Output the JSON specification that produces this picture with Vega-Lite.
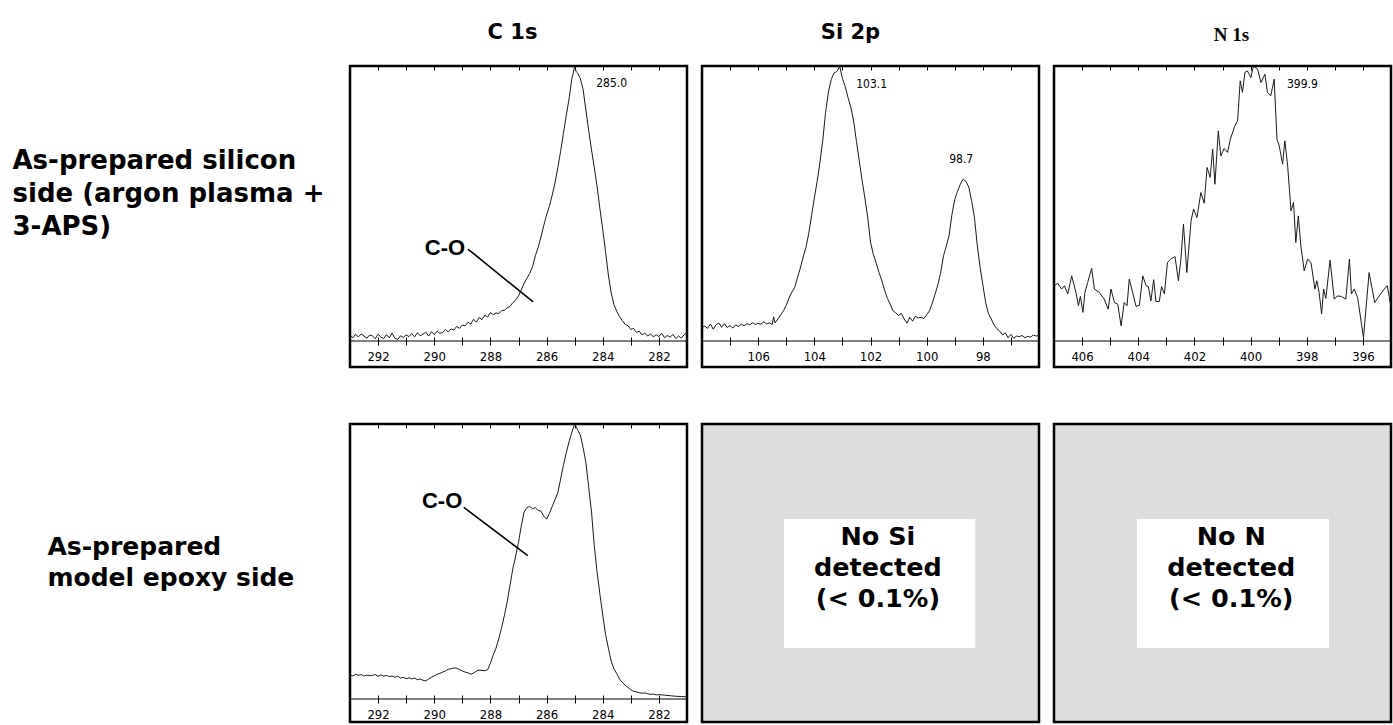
{
  "$schema": "https://vega.github.io/schema/vega-lite/v6.json",
  "background": "white",
  "padding": {"left": 10, "top": 20, "right": 0, "bottom": 0},
  "columns": 3,
  "spacing": {"row": 57, "column": 15},
  "bounds": "flush",
  "align": "all",
  "config": {
    "view": {"stroke": "black", "strokeWidth": 2.5},
    "axis": {
      "grid": false, "domain": false, "tickColor": "black", "tickWidth": 1,
      "labelColor": "black", "labelFont": "Liberation Sans Narrow, DejaVu Sans Condensed, Liberation Sans",
      "labelFontSize": 13, "labelFlush": false, "labelBound": false, "labelOverlap": false, "labelPadding": 5
    }
  },
  "datasets": {
    "c1s_si": [
      {"be":293.0,"counts":2.0},{"be":292.9,"counts":1.2},{"be":292.8,"counts":2.4},{"be":292.7,"counts":1.5},{"be":292.6,"counts":2.6},{"be":292.5,"counts":1.8},{"be":292.4,"counts":1.0},{"be":292.3,"counts":2.2},{"be":292.2,"counts":1.9},{"be":292.1,"counts":0.8},{"be":292.0,"counts":2.5},{"be":291.9,"counts":1.4},{"be":291.8,"counts":0.9},{"be":291.7,"counts":2.3},{"be":291.6,"counts":1.2},{"be":291.5,"counts":2.8},{"be":291.4,"counts":1.0},{"be":291.3,"counts":0.6},{"be":291.2,"counts":1.9},{"be":291.1,"counts":1.3},{"be":291.0,"counts":2.2},{"be":290.9,"counts":1.6},{"be":290.8,"counts":2.7},{"be":290.7,"counts":1.5},{"be":290.6,"counts":3.0},{"be":290.5,"counts":1.9},{"be":290.4,"counts":2.5},{"be":290.3,"counts":3.2},{"be":290.2,"counts":1.8},{"be":290.1,"counts":3.4},{"be":290.0,"counts":2.3},{"be":289.9,"counts":3.6},{"be":289.8,"counts":2.8},{"be":289.7,"counts":3.1},{"be":289.6,"counts":4.2},{"be":289.5,"counts":3.3},{"be":289.4,"counts":4.4},{"be":289.3,"counts":4.0},{"be":289.2,"counts":5.3},{"be":289.1,"counts":4.6},{"be":289.0,"counts":5.8},{"be":288.9,"counts":5.5},{"be":288.8,"counts":6.8},{"be":288.7,"counts":6.2},{"be":288.6,"counts":7.9},{"be":288.5,"counts":6.9},{"be":288.4,"counts":8.6},{"be":288.3,"counts":7.8},{"be":288.2,"counts":9.4},{"be":288.1,"counts":8.7},{"be":288.0,"counts":10.3},{"be":287.9,"counts":9.6},{"be":287.8,"counts":10.2},{"be":287.7,"counts":10.0},{"be":287.6,"counts":11.0},{"be":287.5,"counts":11.2},{"be":287.4,"counts":12.1},{"be":287.3,"counts":12.6},{"be":287.2,"counts":14.0},{"be":287.1,"counts":14.9},{"be":287.0,"counts":16.4},{"be":286.9,"counts":18.6},{"be":286.8,"counts":21.0},{"be":286.7,"counts":22.8},{"be":286.6,"counts":24.6},{"be":286.5,"counts":27.0},{"be":286.4,"counts":31.0},{"be":286.3,"counts":34.0},{"be":286.2,"counts":37.8},{"be":286.1,"counts":42.0},{"be":286.0,"counts":45.8},{"be":285.9,"counts":49.0},{"be":285.8,"counts":53.0},{"be":285.7,"counts":57.5},{"be":285.6,"counts":63.0},{"be":285.5,"counts":69.0},{"be":285.4,"counts":75.5},{"be":285.3,"counts":82.0},{"be":285.2,"counts":88.0},{"be":285.1,"counts":95.5},{"be":285.05,"counts":97.5},{"be":285.0,"counts":100},{"be":284.95,"counts":98.0},{"be":284.9,"counts":97.5},{"be":284.8,"counts":95.5},{"be":284.7,"counts":91.5},{"be":284.6,"counts":84.0},{"be":284.5,"counts":76.5},{"be":284.4,"counts":69.5},{"be":284.3,"counts":63.0},{"be":284.2,"counts":56.0},{"be":284.1,"counts":48.0},{"be":284.0,"counts":40.5},{"be":283.9,"counts":32.5},{"be":283.8,"counts":24.0},{"be":283.7,"counts":17.5},{"be":283.6,"counts":13.2},{"be":283.5,"counts":10.8},{"be":283.4,"counts":8.8},{"be":283.3,"counts":7.4},{"be":283.2,"counts":6.0},{"be":283.1,"counts":5.6},{"be":283.0,"counts":4.2},{"be":282.9,"counts":4.6},{"be":282.8,"counts":3.1},{"be":282.7,"counts":3.6},{"be":282.6,"counts":2.2},{"be":282.5,"counts":2.9},{"be":282.4,"counts":1.8},{"be":282.3,"counts":2.6},{"be":282.2,"counts":1.5},{"be":282.1,"counts":2.3},{"be":282.0,"counts":1.6},{"be":281.9,"counts":2.8},{"be":281.8,"counts":1.2},{"be":281.7,"counts":2.0},{"be":281.6,"counts":1.4},{"be":281.5,"counts":2.4},{"be":281.4,"counts":0.9},{"be":281.3,"counts":1.8},{"be":281.2,"counts":1.1},{"be":281.1,"counts":2.3},{"be":281.0,"counts":3.0}
    ],
    "si2p_si": [
      {"be":108.0,"counts":5.0},{"be":107.9,"counts":5.4},{"be":107.8,"counts":4.6},{"be":107.7,"counts":6.2},{"be":107.6,"counts":4.3},{"be":107.5,"counts":5.9},{"be":107.4,"counts":6.6},{"be":107.3,"counts":5.0},{"be":107.2,"counts":6.3},{"be":107.1,"counts":4.9},{"be":107.0,"counts":5.6},{"be":106.9,"counts":4.7},{"be":106.8,"counts":5.9},{"be":106.7,"counts":5.3},{"be":106.6,"counts":6.1},{"be":106.5,"counts":5.6},{"be":106.4,"counts":6.3},{"be":106.3,"counts":5.9},{"be":106.2,"counts":6.6},{"be":106.1,"counts":6.0},{"be":106.0,"counts":6.4},{"be":105.9,"counts":6.1},{"be":105.8,"counts":7.0},{"be":105.7,"counts":6.2},{"be":105.6,"counts":6.6},{"be":105.5,"counts":6.0},{"be":105.45,"counts":8.8},{"be":105.4,"counts":6.6},{"be":105.3,"counts":8.0},{"be":105.2,"counts":9.5},{"be":105.1,"counts":11.0},{"be":105.0,"counts":13.0},{"be":104.9,"counts":15.6},{"be":104.8,"counts":17.8},{"be":104.7,"counts":19.5},{"be":104.6,"counts":23.0},{"be":104.5,"counts":26.5},{"be":104.4,"counts":30.5},{"be":104.3,"counts":34.0},{"be":104.2,"counts":39.0},{"be":104.1,"counts":45.5},{"be":104.0,"counts":52.0},{"be":103.9,"counts":58.0},{"be":103.8,"counts":65.0},{"be":103.7,"counts":73.0},{"be":103.6,"counts":83.0},{"be":103.5,"counts":90.5},{"be":103.4,"counts":95.0},{"be":103.3,"counts":97.5},{"be":103.2,"counts":98.0},{"be":103.15,"counts":98.8},{"be":103.1,"counts":100},{"be":103.0,"counts":95.5},{"be":102.9,"counts":92.5},{"be":102.8,"counts":88.5},{"be":102.7,"counts":85.0},{"be":102.6,"counts":80.0},{"be":102.5,"counts":72.5},{"be":102.4,"counts":65.5},{"be":102.3,"counts":58.5},{"be":102.2,"counts":52.0},{"be":102.1,"counts":45.0},{"be":102.0,"counts":36.0},{"be":101.9,"counts":31.5},{"be":101.8,"counts":28.5},{"be":101.7,"counts":25.0},{"be":101.6,"counts":22.0},{"be":101.5,"counts":18.5},{"be":101.4,"counts":15.5},{"be":101.3,"counts":13.5},{"be":101.2,"counts":11.0},{"be":101.1,"counts":10.2},{"be":101.0,"counts":9.3},{"be":100.9,"counts":10.0},{"be":100.8,"counts":8.0},{"be":100.7,"counts":6.5},{"be":100.6,"counts":8.6},{"be":100.5,"counts":7.2},{"be":100.4,"counts":9.0},{"be":100.3,"counts":8.4},{"be":100.2,"counts":8.6},{"be":100.1,"counts":8.2},{"be":100.0,"counts":9.5},{"be":99.9,"counts":11.0},{"be":99.8,"counts":13.8},{"be":99.7,"counts":17.0},{"be":99.6,"counts":20.5},{"be":99.5,"counts":25.0},{"be":99.4,"counts":31.0},{"be":99.3,"counts":34.5},{"be":99.2,"counts":38.5},{"be":99.1,"counts":46.0},{"be":99.0,"counts":51.5},{"be":98.9,"counts":54.5},{"be":98.8,"counts":57.0},{"be":98.7,"counts":58.9},{"be":98.6,"counts":58.0},{"be":98.5,"counts":56.0},{"be":98.4,"counts":51.0},{"be":98.3,"counts":45.0},{"be":98.2,"counts":35.0},{"be":98.1,"counts":27.0},{"be":98.0,"counts":20.5},{"be":97.9,"counts":14.0},{"be":97.8,"counts":10.0},{"be":97.7,"counts":8.0},{"be":97.6,"counts":5.8},{"be":97.5,"counts":4.5},{"be":97.4,"counts":3.6},{"be":97.3,"counts":2.2},{"be":97.2,"counts":3.0},{"be":97.1,"counts":1.2},{"be":97.0,"counts":2.4},{"be":96.9,"counts":1.0},{"be":96.8,"counts":1.8},{"be":96.7,"counts":1.6},{"be":96.6,"counts":2.0},{"be":96.5,"counts":1.2},{"be":96.4,"counts":1.7},{"be":96.3,"counts":1.4},{"be":96.2,"counts":2.2},{"be":96.1,"counts":1.8},{"be":96.0,"counts":2.1}
    ],
    "n1s_si": [
      {"be":406.99,"counts":20.1},{"be":406.87,"counts":21.0},{"be":406.73,"counts":18.9},{"be":406.63,"counts":20.1},{"be":406.51,"counts":17.1},{"be":406.37,"counts":23.7},{"be":406.22,"counts":17.7},{"be":406.13,"counts":12.8},{"be":406.06,"counts":16.2},{"be":405.97,"counts":10.4},{"be":405.9,"counts":17.7},{"be":405.8,"counts":21.3},{"be":405.66,"counts":26.4},{"be":405.56,"counts":18.9},{"be":405.39,"counts":17.7},{"be":405.21,"counts":15.2},{"be":405.07,"counts":11.6},{"be":404.97,"counts":18.9},{"be":404.85,"counts":14.0},{"be":404.73,"counts":13.4},{"be":404.61,"counts":5.5},{"be":404.5,"counts":14.0},{"be":404.4,"counts":12.8},{"be":404.32,"counts":22.5},{"be":404.2,"counts":17.7},{"be":404.08,"counts":12.6},{"be":403.96,"counts":13.0},{"be":403.84,"counts":23.7},{"be":403.72,"counts":20.1},{"be":403.64,"counts":19.8},{"be":403.55,"counts":14.6},{"be":403.45,"counts":22.3},{"be":403.37,"counts":14.3},{"be":403.25,"counts":14.4},{"be":403.17,"counts":19.8},{"be":403.07,"counts":17.1},{"be":402.96,"counts":28.6},{"be":402.84,"counts":29.8},{"be":402.69,"counts":30.7},{"be":402.57,"counts":21.9},{"be":402.48,"counts":29.8},{"be":402.39,"counts":42.5},{"be":402.27,"counts":24.9},{"be":402.12,"counts":43.7},{"be":402.03,"counts":48.0},{"be":401.91,"counts":44.9},{"be":401.77,"counts":54.0},{"be":401.65,"counts":50.1},{"be":401.55,"counts":63.1},{"be":401.44,"counts":59.5},{"be":401.35,"counts":69.8},{"be":401.27,"counts":57.0},{"be":401.15,"counts":76.4},{"be":401.06,"counts":67.3},{"be":400.94,"counts":70.0},{"be":400.82,"counts":68.6},{"be":400.72,"counts":73.4},{"be":400.58,"counts":77.7},{"be":400.46,"counts":80.3},{"be":400.37,"counts":94.6},{"be":400.29,"counts":90.4},{"be":400.2,"counts":97.7},{"be":400.11,"counts":98.2},{"be":399.99,"counts":95.8},{"be":399.9,"counts":100},{"be":399.75,"counts":98.9},{"be":399.63,"counts":94.0},{"be":399.49,"counts":97.0},{"be":399.4,"counts":90.4},{"be":399.28,"counts":89.2},{"be":399.16,"counts":95.2},{"be":399.06,"counts":73.4},{"be":398.98,"counts":71.0},{"be":398.86,"counts":64.3},{"be":398.78,"counts":72.8},{"be":398.68,"counts":63.7},{"be":398.56,"counts":47.3},{"be":398.47,"counts":50.4},{"be":398.39,"counts":35.8},{"be":398.3,"counts":45.5},{"be":398.21,"counts":34.6},{"be":398.09,"counts":25.5},{"be":397.97,"counts":29.8},{"be":397.85,"counts":28.6},{"be":397.71,"counts":18.9},{"be":397.64,"counts":21.9},{"be":397.56,"counts":17.7},{"be":397.47,"counts":9.8},{"be":397.4,"counts":18.9},{"be":397.32,"counts":15.5},{"be":397.17,"counts":29.4},{"be":397.02,"counts":15.2},{"be":396.91,"counts":16.4},{"be":396.76,"counts":16.2},{"be":396.61,"counts":15.2},{"be":396.48,"counts":29.8},{"be":396.41,"counts":17.1},{"be":396.31,"counts":18.9},{"be":396.19,"counts":15.8},{"be":395.98,"counts":1.3},{"be":395.78,"counts":24.9},{"be":395.58,"counts":14.0},{"be":395.42,"counts":16.4},{"be":395.24,"counts":18.9},{"be":395.13,"counts":20.1},{"be":395.01,"counts":12.8}
    ],
    "c1s_epoxy": [
      {"be":293.0,"counts":8.8},{"be":292.9,"counts":8.4},{"be":292.8,"counts":9.0},{"be":292.7,"counts":8.6},{"be":292.6,"counts":8.9},{"be":292.5,"counts":8.3},{"be":292.4,"counts":8.7},{"be":292.3,"counts":8.5},{"be":292.2,"counts":8.6},{"be":292.1,"counts":8.9},{"be":292.0,"counts":8.2},{"be":291.9,"counts":8.8},{"be":291.8,"counts":8.3},{"be":291.7,"counts":8.6},{"be":291.6,"counts":8.1},{"be":291.5,"counts":8.4},{"be":291.4,"counts":7.9},{"be":291.3,"counts":8.3},{"be":291.2,"counts":7.6},{"be":291.1,"counts":7.9},{"be":291.0,"counts":7.4},{"be":290.9,"counts":7.7},{"be":290.8,"counts":7.3},{"be":290.7,"counts":7.6},{"be":290.6,"counts":7.0},{"be":290.5,"counts":7.3},{"be":290.4,"counts":6.8},{"be":290.3,"counts":6.6},{"be":290.2,"counts":7.3},{"be":290.1,"counts":7.9},{"be":290.0,"counts":8.4},{"be":289.9,"counts":9.0},{"be":289.8,"counts":9.3},{"be":289.7,"counts":9.8},{"be":289.6,"counts":10.2},{"be":289.5,"counts":10.8},{"be":289.4,"counts":11.0},{"be":289.3,"counts":11.3},{"be":289.2,"counts":11.2},{"be":289.1,"counts":10.7},{"be":289.0,"counts":10.2},{"be":288.9,"counts":9.8},{"be":288.8,"counts":9.5},{"be":288.7,"counts":9.0},{"be":288.6,"counts":9.4},{"be":288.5,"counts":10.2},{"be":288.4,"counts":10.5},{"be":288.3,"counts":10.4},{"be":288.2,"counts":10.3},{"be":288.1,"counts":10.6},{"be":288.0,"counts":13.0},{"be":287.9,"counts":16.0},{"be":287.8,"counts":18.5},{"be":287.7,"counts":22.0},{"be":287.6,"counts":26.0},{"be":287.5,"counts":30.5},{"be":287.4,"counts":35.5},{"be":287.3,"counts":41.5},{"be":287.2,"counts":47.5},{"be":287.1,"counts":52.0},{"be":287.0,"counts":57.0},{"be":286.9,"counts":63.0},{"be":286.8,"counts":68.0},{"be":286.7,"counts":69.6},{"be":286.6,"counts":70.0},{"be":286.5,"counts":69.2},{"be":286.4,"counts":69.6},{"be":286.3,"counts":68.6},{"be":286.2,"counts":68.3},{"be":286.1,"counts":66.5},{"be":286.0,"counts":65.4},{"be":285.9,"counts":67.5},{"be":285.8,"counts":70.0},{"be":285.7,"counts":72.5},{"be":285.6,"counts":75.0},{"be":285.5,"counts":80.0},{"be":285.4,"counts":85.0},{"be":285.3,"counts":89.5},{"be":285.2,"counts":93.5},{"be":285.1,"counts":97.0},{"be":285.0,"counts":100},{"be":284.9,"counts":98.0},{"be":284.8,"counts":96.0},{"be":284.7,"counts":91.5},{"be":284.6,"counts":86.0},{"be":284.5,"counts":77.0},{"be":284.4,"counts":68.0},{"be":284.3,"counts":55.5},{"be":284.2,"counts":46.0},{"be":284.1,"counts":38.0},{"be":284.0,"counts":30.5},{"be":283.9,"counts":23.5},{"be":283.8,"counts":18.5},{"be":283.7,"counts":13.8},{"be":283.6,"counts":11.0},{"be":283.5,"counts":9.2},{"be":283.4,"counts":7.2},{"be":283.3,"counts":6.0},{"be":283.2,"counts":5.0},{"be":283.1,"counts":4.2},{"be":283.0,"counts":3.3},{"be":282.9,"counts":2.8},{"be":282.8,"counts":2.6},{"be":282.7,"counts":2.3},{"be":282.6,"counts":2.1},{"be":282.5,"counts":2.2},{"be":282.4,"counts":1.9},{"be":282.3,"counts":1.7},{"be":282.2,"counts":1.8},{"be":282.1,"counts":1.5},{"be":282.0,"counts":1.6},{"be":281.8,"counts":1.4},{"be":281.6,"counts":1.2},{"be":281.4,"counts":1.0},{"be":281.2,"counts":0.9},{"be":281.0,"counts":0.8}
    ],
    "co_notes": [
      {"sample":"silicon","label":"C-O","label_be":289.62,"label_counts":33.8,"be_from":288.8,"counts_from":33.45,"be_to":286.48,"counts_to":14.2},
      {"sample":"epoxy","label":"C-O","label_be":289.72,"label_counts":72.0,"be_from":288.95,"counts_from":69.7,"be_to":286.67,"counts_to":52.1}
    ],
    "zero_line": [{"counts": 0}]
  },
  "concat": [
    {
      "width": 337, "height": 301,
      "title": {"text": "C 1s", "frame": "group", "anchor": "middle", "baseline": "alphabetic", "offset": 4, "dx": -6, "font": "DejaVu Sans", "fontWeight": "bold", "fontSize": 21, "color": "black"},
      "layer": [
        {
          "data": {"name": "c1s_si"},
          "mark": {"type": "line", "color": "#1a1a1a", "strokeWidth": 1},
          "encoding": {
            "x": {"field": "be", "type": "quantitative", "scale": {"domain": [281, 293], "reverse": true, "nice": false, "zero": false},
              "axis": {"orient": "bottom", "offset": -30, "tickSize": 8, "title": null, "format": "d", "values": [281,282,283,284,285,286,287,288,289,290,291,292,293], "labelExpr": "datum.value % 2 === 0 ? datum.label : ''"}},
            "y": {"field": "counts", "type": "quantitative", "scale": {"domain": [-9.45, 100], "nice": false, "zero": false},
              "axis": {"title": ["As-prepared silicon", "side (argon plasma +", "3-APS)"], "titleAngle": 0, "titleAlign": "left", "titleBaseline": "alphabetic", "titleX": -338, "titleY": 102, "titleFont": "DejaVu Sans", "titleFontWeight": "bold", "titleFontSize": 26, "titleLineHeight": 33, "titleColor": "black", "labels": false, "ticks": false, "domain": false}}
          }
        },
        {
          "data": {"name": "zero_line"},
          "mark": {"type": "rule", "color": "black", "strokeWidth": 1},
          "encoding": {"y": {"field": "counts", "type": "quantitative", "axis": null}}
        },
        {
          "data": {"name": "co_notes"},
          "transform": [{"filter": "datum.sample === 'silicon'"}],
          "mark": {"type": "rule", "color": "black", "strokeWidth": 1.6},
          "encoding": {
            "x": {"field": "be_from", "type": "quantitative", "axis": null},
            "y": {"field": "counts_from", "type": "quantitative", "axis": null},
            "x2": {"field": "be_to"},
            "y2": {"field": "counts_to"}
          }
        },
        {
          "data": {"name": "co_notes"},
          "transform": [{"filter": "datum.sample === 'silicon'"}],
          "mark": {"type": "text", "font": "Liberation Sans", "fontWeight": "bold", "fontSize": 22, "color": "black", "align": "center", "baseline": "middle"},
          "encoding": {
            "x": {"field": "label_be", "type": "quantitative", "axis": null},
            "y": {"field": "label_counts", "type": "quantitative", "axis": null},
            "text": {"field": "label", "type": "nominal"}
          }
        },
        {
          "data": {"name": "c1s_si"},
          "transform": [{"aggregate": [{"op": "argmax", "field": "counts", "as": "top"}]}],
          "mark": {"type": "text", "dx": 37, "dy": 17, "font": "Liberation Sans Narrow, DejaVu Sans Condensed, Liberation Sans", "fontSize": 12, "color": "black", "align": "center", "baseline": "middle"},
          "encoding": {
            "x": {"field": "top.be", "type": "quantitative", "axis": {"orient": "top", "tickSize": -4, "labels": false, "title": null, "values": [281,282,283,284,285,286,287,288,289,290,291,292,293]}},
            "y": {"field": "top.counts", "type": "quantitative", "axis": null},
            "text": {"field": "top.be", "type": "quantitative", "format": ".1f"}
          }
        }
      ],
      "resolve": {"axis": {"x": "independent", "y": "independent"}}
    },
    {
      "width": 337, "height": 301,
      "title": {"text": "Si 2p", "frame": "group", "anchor": "middle", "baseline": "alphabetic", "offset": 4, "dx": -20, "font": "DejaVu Sans", "fontWeight": "bold", "fontSize": 21, "color": "black"},
      "layer": [
        {
          "data": {"name": "si2p_si"},
          "mark": {"type": "line", "color": "#1a1a1a", "strokeWidth": 1},
          "encoding": {
            "x": {"field": "be", "type": "quantitative", "scale": {"domain": [96, 108], "reverse": true, "nice": false, "zero": false},
              "axis": {"orient": "bottom", "offset": -30, "tickSize": 8, "title": null, "format": "d", "values": [96,97,98,99,100,101,102,103,104,105,106,107,108], "labelExpr": "datum.value % 2 === 0 && datum.value > 96 && datum.value < 108 ? datum.label : ''"}},
            "y": {"field": "counts", "type": "quantitative", "scale": {"domain": [-9.45, 100], "nice": false, "zero": false}, "axis": null}
          }
        },
        {
          "data": {"name": "zero_line"},
          "mark": {"type": "rule", "color": "black", "strokeWidth": 1},
          "encoding": {"y": {"field": "counts", "type": "quantitative", "axis": null}}
        },
        {
          "data": {"name": "si2p_si"},
          "transform": [{"filter": "datum.be > 100"}, {"aggregate": [{"op": "argmax", "field": "counts", "as": "top"}]}],
          "mark": {"type": "text", "dx": 32, "dy": 18, "font": "Liberation Sans Narrow, DejaVu Sans Condensed, Liberation Sans", "fontSize": 12, "color": "black", "align": "center", "baseline": "middle"},
          "encoding": {
            "x": {"field": "top.be", "type": "quantitative", "axis": {"orient": "top", "tickSize": -4, "labels": false, "title": null, "values": [96,97,98,99,100,101,102,103,104,105,106,107,108]}},
            "y": {"field": "top.counts", "type": "quantitative", "axis": null},
            "text": {"field": "top.be", "type": "quantitative", "format": ".1f"}
          }
        },
        {
          "data": {"name": "si2p_si"},
          "transform": [{"filter": "datum.be < 100"}, {"aggregate": [{"op": "argmax", "field": "counts", "as": "top"}]}],
          "mark": {"type": "text", "dx": -2, "dy": -20, "font": "Liberation Sans Narrow, DejaVu Sans Condensed, Liberation Sans", "fontSize": 12, "color": "black", "align": "center", "baseline": "middle"},
          "encoding": {
            "x": {"field": "top.be", "type": "quantitative", "axis": null},
            "y": {"field": "top.counts", "type": "quantitative", "axis": null},
            "text": {"field": "top.be", "type": "quantitative", "format": ".1f"}
          }
        }
      ],
      "resolve": {"axis": {"x": "independent", "y": "independent"}}
    },
    {
      "width": 337, "height": 301,
      "title": {"text": "N 1s", "frame": "group", "anchor": "middle", "baseline": "alphabetic", "offset": 4, "dx": 9, "font": "Liberation Serif", "fontWeight": "bold", "fontSize": 19, "color": "black"},
      "layer": [
        {
          "data": {"name": "n1s_si"},
          "mark": {"type": "line", "color": "#1a1a1a", "strokeWidth": 1},
          "encoding": {
            "x": {"field": "be", "type": "quantitative", "scale": {"domain": [395, 407], "reverse": true, "nice": false, "zero": false},
              "axis": {"orient": "bottom", "offset": -30, "tickSize": 8, "title": null, "format": "d", "values": [395,396,397,398,399,400,401,402,403,404,405,406,407], "labelExpr": "datum.value % 2 === 0 ? datum.label : ''"}},
            "y": {"field": "counts", "type": "quantitative", "scale": {"domain": [-9.45, 100], "nice": false, "zero": false}, "axis": null}
          }
        },
        {
          "data": {"name": "zero_line"},
          "mark": {"type": "rule", "color": "black", "strokeWidth": 1},
          "encoding": {"y": {"field": "counts", "type": "quantitative", "axis": null}}
        },
        {
          "data": {"name": "n1s_si"},
          "transform": [{"aggregate": [{"op": "argmax", "field": "counts", "as": "top"}]}],
          "mark": {"type": "text", "dx": 49, "dy": 18, "font": "Liberation Sans Narrow, DejaVu Sans Condensed, Liberation Sans", "fontSize": 12, "color": "black", "align": "center", "baseline": "middle"},
          "encoding": {
            "x": {"field": "top.be", "type": "quantitative", "axis": {"orient": "top", "tickSize": -4, "labels": false, "title": null, "values": [395,396,397,398,399,400,401,402,403,404,405,406,407]}},
            "y": {"field": "top.counts", "type": "quantitative", "axis": null},
            "text": {"field": "top.be", "type": "quantitative", "format": ".1f"}
          }
        }
      ],
      "resolve": {"axis": {"x": "independent", "y": "independent"}}
    },
    {
      "width": 337, "height": 298,
      "layer": [
        {
          "data": {"name": "c1s_epoxy"},
          "mark": {"type": "line", "color": "#1a1a1a", "strokeWidth": 1},
          "encoding": {
            "x": {"field": "be", "type": "quantitative", "scale": {"domain": [281, 293], "reverse": true, "nice": false, "zero": false},
              "axis": {"orient": "bottom", "offset": -27, "tickSize": 8, "title": null, "format": "d", "values": [281,282,283,284,285,286,287,288,289,290,291,292,293], "labelExpr": "datum.value % 2 === 0 ? datum.label : ''"}},
            "y": {"field": "counts", "type": "quantitative", "scale": {"domain": [-8.36, 100], "nice": false, "zero": false},
              "axis": {"title": ["As-prepared", "model epoxy side"], "titleAngle": 0, "titleAlign": "left", "titleBaseline": "alphabetic", "titleX": -303, "titleY": 130, "titleFont": "DejaVu Sans", "titleFontWeight": "bold", "titleFontSize": 25, "titleLineHeight": 31, "titleColor": "black", "labels": false, "ticks": false, "domain": false}}
          }
        },
        {
          "data": {"name": "zero_line"},
          "mark": {"type": "rule", "color": "black", "strokeWidth": 1},
          "encoding": {"y": {"field": "counts", "type": "quantitative", "axis": null}}
        },
        {
          "data": {"name": "co_notes"},
          "transform": [{"filter": "datum.sample === 'epoxy'"}],
          "mark": {"type": "rule", "color": "black", "strokeWidth": 1.6},
          "encoding": {
            "x": {"field": "be_from", "type": "quantitative", "axis": {"orient": "top", "tickSize": -4, "labels": false, "title": null, "values": [281,282,283,284,285,286,287,288,289,290,291,292,293]}},
            "y": {"field": "counts_from", "type": "quantitative", "axis": null},
            "x2": {"field": "be_to"},
            "y2": {"field": "counts_to"}
          }
        },
        {
          "data": {"name": "co_notes"},
          "transform": [{"filter": "datum.sample === 'epoxy'"}],
          "mark": {"type": "text", "font": "Liberation Sans", "fontWeight": "bold", "fontSize": 22, "color": "black", "align": "center", "baseline": "middle"},
          "encoding": {
            "x": {"field": "label_be", "type": "quantitative", "axis": null},
            "y": {"field": "label_counts", "type": "quantitative", "axis": null},
            "text": {"field": "label", "type": "nominal"}
          }
        }
      ],
      "resolve": {"axis": {"x": "independent", "y": "independent"}}
    },
    {
      "width": 337, "height": 298,
      "view": {"fill": "#dddddd"},
      "data": {"values": [{"region": "Si 2p", "note": "No Si\ndetected\n(< 0.1%)"}]},
      "layer": [
        {
          "mark": {"type": "rect", "color": "white"},
          "encoding": {
            "x": {"datum": 0.243, "type": "quantitative", "scale": {"domain": [0, 1], "nice": false, "zero": false}, "axis": null},
            "x2": {"datum": 0.811},
            "y": {"datum": 0.681, "type": "quantitative", "scale": {"domain": [0, 1], "nice": false, "zero": false}, "axis": null},
            "y2": {"datum": 0.248}
          }
        },
        {
          "mark": {"type": "text", "align": "center", "baseline": "middle", "lineBreak": "\n", "font": "DejaVu Sans", "fontWeight": "bold", "fontSize": 25.5, "lineHeight": 31, "color": "black"},
          "encoding": {
            "x": {"datum": 0.522, "type": "quantitative", "axis": null},
            "y": {"datum": 0.621, "type": "quantitative", "axis": null},
            "text": {"field": "note", "type": "nominal"}
          }
        }
      ]
    },
    {
      "width": 337, "height": 298,
      "view": {"fill": "#dddddd"},
      "data": {"values": [{"region": "N 1s", "note": "No N\ndetected\n(< 0.1%)"}]},
      "layer": [
        {
          "mark": {"type": "rect", "color": "white"},
          "encoding": {
            "x": {"datum": 0.246, "type": "quantitative", "scale": {"domain": [0, 1], "nice": false, "zero": false}, "axis": null},
            "x2": {"datum": 0.816},
            "y": {"datum": 0.681, "type": "quantitative", "scale": {"domain": [0, 1], "nice": false, "zero": false}, "axis": null},
            "y2": {"datum": 0.248}
          }
        },
        {
          "mark": {"type": "text", "align": "center", "baseline": "middle", "lineBreak": "\n", "font": "DejaVu Sans", "fontWeight": "bold", "fontSize": 25.5, "lineHeight": 31, "color": "black"},
          "encoding": {
            "x": {"datum": 0.526, "type": "quantitative", "axis": null},
            "y": {"datum": 0.621, "type": "quantitative", "axis": null},
            "text": {"field": "note", "type": "nominal"}
          }
        }
      ]
    }
  ]
}
